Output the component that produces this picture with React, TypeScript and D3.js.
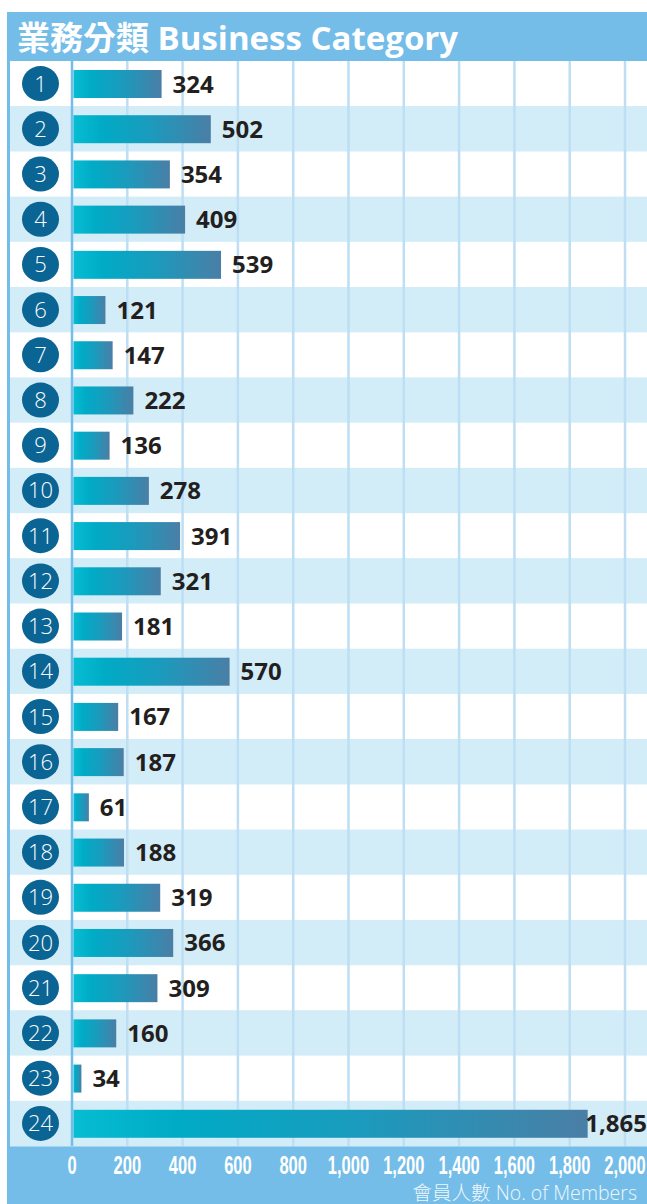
import React from "react";
import * as d3 from "d3";

const categories = ["1","2","3","4","5","6","7","8","9","10","11","12","13","14","15","16","17","18","19","20","21","22","23","24"];
const members = [324, 502, 354, 409, 539, 121, 147, 222, 136, 278, 391, 321, 181, 570, 167, 187, 61, 188, 319, 366, 309, 160, 34, 1865];
const tickValues = [0, 200, 400, 600, 800, 1000, 1200, 1400, 1600, 1800, 2000];
const titleText = "業務分類 Business Category";
const axisTitle = "會員人數 No. of Members";

const W = 647;
const H = 1204;
const HEADER = "#74bde8";
const LIGHT_ROW = "#d3edf8";
const GRID = "#bddef3";
const CIRCLE = "#0b6594";

export default function App() {
  const rowsTop = 61;
  const rowsBottom = 1146;
  const x = d3.scaleLinear().domain([0, 2000]).range([72, 625]);
  const y = d3.scaleBand<string>().domain(categories).range([rowsTop, rowsBottom]).paddingInner(0).paddingOuter(0);
  const bw = y.bandwidth();
  const barH = 28;
  const fmt = d3.format(",");

  return (
    <svg width={W} height={H} style={{ position: "absolute", left: 0, top: 0, display: "block" }}>
      <defs>
        <linearGradient id="barGrad" x1="0" x2="1" y1="0" y2="0">
          <stop offset="0" stopColor="#06bdd2" />
          <stop offset="0.2" stopColor="#00abc6" />
          <stop offset="0.55" stopColor="#1a9bbd" />
          <stop offset="1" stopColor="#4a7ea6" />
        </linearGradient>
      </defs>
      <rect x={0} y={0} width={W} height={H} fill="#ffffff" />
      {/* panel frame */}
      <rect x={7} y={12} width={W - 7} height={H - 12} fill={HEADER} />
      {/* rows */}
      {categories.map((c, i) => (
        <rect key={"row" + c} x={10} y={y(c)!} width={W - 10} height={bw + 0.5}
          fill={i % 2 === 0 ? "#ffffff" : LIGHT_ROW} />
      ))}
      {/* grid */}
      {tickValues.slice(1).map((t) => (
        <line key={"g" + t} x1={x(t)} x2={x(t)} y1={rowsTop} y2={rowsBottom} stroke={GRID} strokeWidth={2.5} />
      ))}
      <line x1={x(0)} x2={x(0)} y1={rowsTop} y2={rowsBottom} stroke={HEADER} strokeWidth={2.5} />
      {/* title */}
      <text x={17} y={50} fill="#ffffff" fontFamily="'Open Sans', 'Noto Sans CJK TC', sans-serif" fontWeight={700} fontSize={33}>
        {titleText}
      </text>
      {/* bars */}
      {categories.map((c, i) => {
        const v = members[i];
        const y0 = y(c)!;
        const x1 = x(v);
        const big = v > 1000;
        return (
          <g key={"b" + c}>
            <rect x={x(0) + 1.5} y={y0 + 9} width={x1 - x(0) - 1.5} height={barH} fill="url(#barGrad)" />
            <text x={big ? 647 : x1 + 11} y={y0 + 31.5} textAnchor={big ? "end" : "start"} fill="#231f20"
              fontFamily="'Open Sans', sans-serif" fontWeight={700} fontSize={24}>
              {fmt(v)}
            </text>
            <ellipse cx={40.5} cy={y0 + bw / 2} rx={18.5} ry={17.5} fill={CIRCLE} />
            <text x={40.5} y={y0 + bw / 2 + 8} textAnchor="middle" fill="#ffffff"
              fontFamily="'Open Sans', sans-serif" fontWeight={300} fontSize={22}>
              {c}
            </text>
          </g>
        );
      })}
      {/* axis labels */}
      {tickValues.map((t) => (
        <text key={"t" + t} transform={`translate(${x(t)},1173.5) scale(0.66,1)`} textAnchor="middle" fill="#ffffff"
          fontFamily="'Liberation Sans Narrow', 'Liberation Sans', sans-serif" fontWeight={700} fontSize={25}>
          {fmt(t)}
        </text>
      ))}
      <text x={637} y={1200} textAnchor="end" fill="#eef7fc"
        fontFamily="'Open Sans', 'Noto Sans CJK TC', sans-serif" fontWeight={300} fontSize={19.5}>
        {axisTitle}
      </text>
    </svg>
  );
}
